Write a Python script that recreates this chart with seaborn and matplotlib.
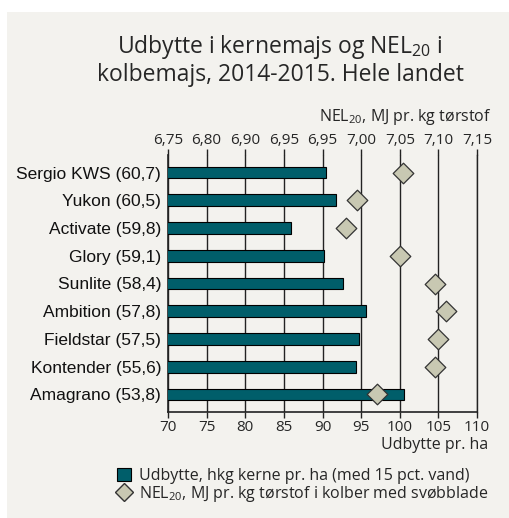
import numpy as np
import pandas as pd
import matplotlib.pyplot as plt
import seaborn as sns
from matplotlib.patches import Patch, Rectangle
from matplotlib.lines import Line2D

# data
sorter = ['Sergio KWS (60,7)', 'Yukon (60,5)', 'Activate (59,8)', 'Glory (59,1)',
          'Sunlite (58,4)', 'Ambition (57,8)', 'Fieldstar (57,5)', 'Kontender (55,6)',
          'Amagrano (53,8)']
udbytte = [90.5, 91.8, 85.9, 90.2, 92.6, 95.6, 94.7, 94.4, 100.5]
nel = [7.054, 6.995, 6.980, 7.050, 7.095, 7.110, 7.100, 7.095, 7.020]
top_labels = ['6,75', '6,80', '6,90', '6,95', '6,95', '7,00', '7,05', '7,10', '7,15']
bottom_ticks = [70, 75, 80, 85, 90, 95, 100, 105, 110]

df = pd.DataFrame({'sort': sorter, 'udbytte': udbytte, 'nel': nel})

sns.set_theme(style='white')
plt.rcParams['font.family'] = ['Open Sans', 'DejaVu Sans']
plt.rcParams['mathtext.fontset'] = 'custom'
plt.rcParams['mathtext.rm'] = 'Open Sans'
plt.rcParams['mathtext.it'] = 'Open Sans'

W, H = 510, 518
fig = plt.figure(figsize=(W / 100, H / 100), dpi=100)
fig.patch.set_facecolor('white')
bg = '#F3F2EE'
fig.patches.append(Rectangle((7 / W, 0), 1, (H - 12) / H, transform=fig.transFigure,
                             facecolor=bg, edgecolor='none', zorder=-10))

ax = fig.add_axes([168 / W, (H - 412) / H, 309 / W, 257 / H])
ax.set_facecolor(bg)

sns.barplot(data=df, y='sort', x='udbytte', color='#005E6A', saturation=1,
            width=0.42, edgecolor='black', linewidth=0.8, ax=ax, zorder=3)
ax.set_xlim(70, 110)
ax.set_xticks(bottom_ticks)
ax.set_xticklabels([str(t) for t in bottom_ticks], fontsize=11)
ax.grid(axis='x', color='#222222', linewidth=1)
ax.set_axisbelow(True)
ax.set_xlabel('')
ax.set_ylabel('')
ax.tick_params(axis='x', which='major', direction='out', length=4, width=1,
               color='#222', pad=2)
ax.tick_params(axis='y', which='major', length=0, pad=5,
               labelfontfamily='Liberation Sans', labelsize=12.5, labelcolor='#111')
ax.set_yticks(np.arange(len(sorter) + 1) - 0.5, minor=True)
ax.tick_params(axis='y', which='minor', direction='out', length=4, width=1, color='#222')
ax.spines['top'].set_visible(False)
ax.spines['right'].set_color('#222')
ax.spines['right'].set_linewidth(1)
for s in ['left', 'bottom']:
    ax.spines[s].set_color('#222')
    ax.spines[s].set_linewidth(1.2)

# NEL on twin top axis
ax2 = ax.twiny()
sns.scatterplot(data=df, y='sort', x='nel', marker='D', s=110, color='#C8C8B2',
                edgecolor='#333', linewidth=0.9, ax=ax2, zorder=5, legend=False)
ax2.set_xlim(6.75, 7.15)
ax2.set_xticks(np.linspace(6.75, 7.15, 9))
ax2.set_xticklabels(top_labels, fontsize=11)
ax2.tick_params(axis='x', direction='out', length=4, width=1, color='#222', pad=1)
ax2.set_xlabel('')
ax2.set_ylabel('')
for s in ['top', 'right', 'left', 'bottom']:
    ax2.spines[s].set_visible(False)

fig.text(488 / W, 1 - 445 / H, 'Udbytte pr. ha', ha='right', va='center', fontsize=11.5)
fig.text(492 / W, 1 - 117 / H, 'NEL$_{20}$, MJ pr. kg tørstof', ha='right',
         va='center', fontsize=11.5)

fig.text(280 / W, 1 - 47 / H, 'Udbytte i kernemajs og NEL$_{20}$ i', ha='center',
         va='center', fontsize=16.5)
fig.text(280 / W, 1 - 75 / H, 'kolbemajs, 2014-2015. Hele landet', ha='center',
         va='center', fontsize=16.5)

handles = [Patch(facecolor='#005E6A', edgecolor='black', linewidth=0.8),
           Line2D([], [], marker='D', linestyle='none', markersize=9,
                  markerfacecolor='#C8C8B2', markeredgecolor='#333')]
labels = ['Udbytte, hkg kerne pr. ha (med 15 pct. vand)',
          'NEL$_{20}$, MJ pr. kg tørstof i kolber med svøbblade']
fig.legend(handles, labels, loc='upper left', bbox_to_anchor=(117 / W, 1 - 468 / H),
           frameon=False, fontsize=11.5, handlelength=0.9, handleheight=0.9,
           handletextpad=0.45, labelspacing=0.0, borderpad=0, borderaxespad=0)

fig.savefig('out.png', dpi=100, facecolor='white')
